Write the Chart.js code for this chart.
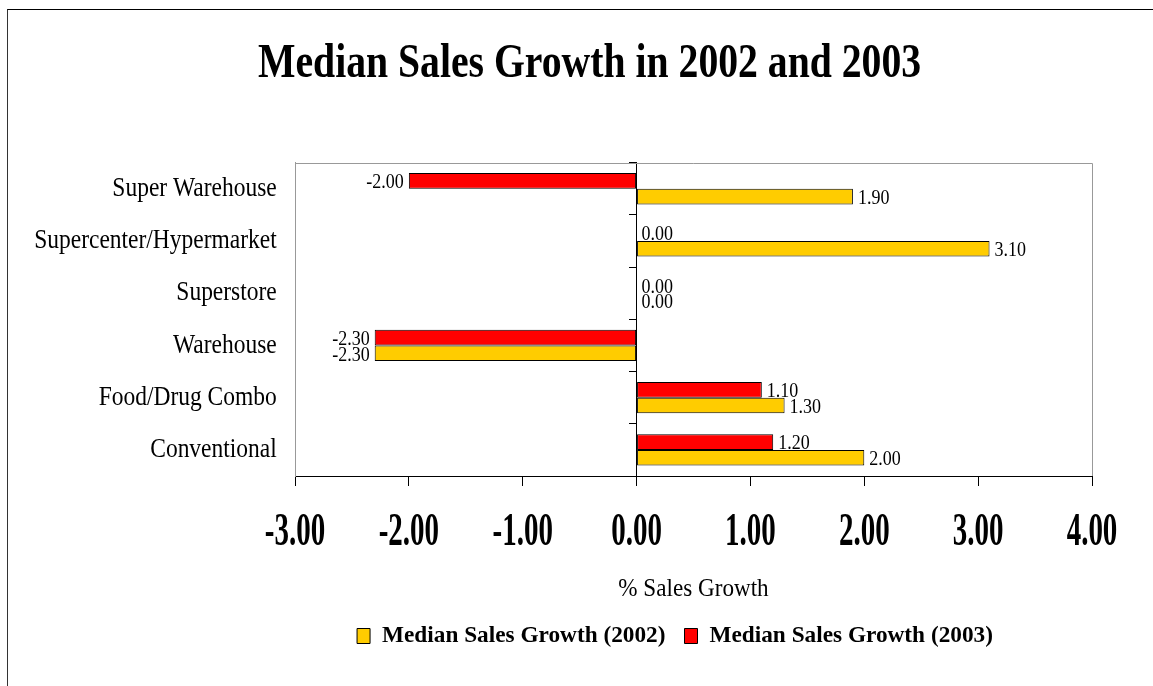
<!DOCTYPE html>
<html>
<head>
<meta charset="utf-8">
<script src="https://cdn.jsdelivr.net/npm/chart.js@4"></script>
<style>
  html, body { margin: 0; padding: 0; background: #fff; overflow: hidden; }
  #frame { position: absolute; left: 7px; top: 9px; width: 1400px; height: 900px;
           border-left: 1px solid #333; border-top: 1px solid #000; }
  #salesChart { position: absolute; left: 0; top: 0; }
</style>
</head>
<body>
<div id="frame"></div>
<canvas id="salesChart" width="1153" height="686"></canvas>
<script>
const categories = ["Super Warehouse", "Supercenter/Hypermarket", "Superstore", "Warehouse", "Food/Drug Combo", "Conventional"];
const growth2002 = [1.90, 3.10, 0.00, -2.30, 1.30, 2.00];
const growth2003 = [-2.00, 0.00, 0.00, -2.30, 1.10, 1.20];
const axisMin = -3;
const axisMax = 4;
const axisStep = 1;

// narrow serif look: squeeze text horizontally, per font size
const squeeze = { 48: 0.827, 46: 0.63, 27: 0.87, 26: 0.89, 24: 0.97, 20: 0.9 };

const canvas = document.getElementById("salesChart");
const ctx = canvas.getContext("2d");
const baseFill = ctx.fillText.bind(ctx);
const baseMeasure = ctx.measureText.bind(ctx);
function squeezeFor() {
    const m = /(\d+(?:\.\d+)?)px/.exec(ctx.font);
    return (m && squeeze[Math.round(parseFloat(m[1]))]) || 1;
}
ctx.fillText = function (text, x, y) {
    const k = squeezeFor();
    ctx.save();
    ctx.translate(x, y);
    ctx.scale(k, 1);
    baseFill(text, 0, 0);
    ctx.restore();
};
ctx.measureText = function (text) {
    const m = baseMeasure(text);
    return {
        width: m.width * squeezeFor(),
        actualBoundingBoxAscent: m.actualBoundingBoxAscent,
        actualBoundingBoxDescent: m.actualBoundingBoxDescent,
        actualBoundingBoxLeft: m.actualBoundingBoxLeft,
        actualBoundingBoxRight: m.actualBoundingBoxRight
    };
};

Chart.defaults.font.family = "'Liberation Serif', 'Times New Roman', serif";
Chart.defaults.color = "#000";

// grey top and right edges of the plot area
const plotFrame = {
    id: "plotFrame",
    beforeDatasetsDraw(chart) {
        const { ctx, chartArea: a } = chart;
        ctx.save();
        ctx.strokeStyle = "#999";
        ctx.lineWidth = 1;
        ctx.beginPath();
        ctx.moveTo(a.left, Math.round(a.top) + 0.5);
        ctx.lineTo(Math.round(a.right) + 0.5, Math.round(a.top) + 0.5);
        ctx.lineTo(Math.round(a.right) + 0.5, a.bottom);
        ctx.stroke();
        ctx.restore();
    }
};

// value labels at the end of each bar
const valueLabels = {
    id: "valueLabels",
    afterDatasetsDraw(chart) {
        const { ctx } = chart;
        ctx.save();
        ctx.font = "20px 'Liberation Serif', 'Times New Roman', serif";
        ctx.fillStyle = "#000";
        ctx.textBaseline = "middle";
        chart.data.datasets.forEach((ds, i) => {
            chart.getDatasetMeta(i).data.forEach((bar, j) => {
                const v = ds.data[j];
                ctx.textAlign = v < 0 ? "right" : "left";
                ctx.fillText(v.toFixed(2), bar.x + (v < 0 ? -5 : 5), bar.y + 2);
            });
        });
        ctx.restore();
    }
};

new Chart(ctx, {
    type: "bar",
    data: {
        labels: categories,
        datasets: [
            {
                label: "Median Sales Growth (2003)",
                data: growth2003,
                backgroundColor: "#FF0000",
                borderColor: "#000",
                borderWidth: 1,
                borderSkipped: false
            },
            {
                label: "Median Sales Growth (2002)",
                data: growth2002,
                backgroundColor: "#FFCC00",
                borderColor: "#000",
                borderWidth: 1,
                borderSkipped: false
            }
        ]
    },
    options: {
        indexAxis: "y",
        responsive: false,
        animation: false,
        layout: { padding: { left: 258, right: 61, top: 0, bottom: 28 } },
        datasets: { bar: { categoryPercentage: 0.6, barPercentage: 1 } },
        scales: {
            x: {
                min: axisMin,
                max: axisMax,
                ticks: {
                    stepSize: axisStep,
                    callback: v => v.toFixed(2),
                    font: { size: 46, weight: "bold", lineHeight: 1.2 },
                    padding: 20
                },
                grid: { drawOnChartArea: false, tickLength: 10, color: "#000" },
                border: { color: "#000" },
                title: {
                    display: true,
                    text: "% Sales Growth",
                    font: { size: 26, lineHeight: 1.2 },
                    padding: { top: 0, bottom: 0 }
                },
                afterFit: s => { s.height = 129; }
            },
            // left edge of the plot
            y: {
                ticks: { display: false },
                grid: { display: false, drawTicks: false },
                border: { color: "#999" },
                afterFit: s => { s.width = 37; }
            },
            // category names, right-aligned just left of the plot
            yLabels: {
                type: "category",
                position: { x: axisMin - 0.16 },
                offset: true,
                ticks: { font: { size: 27 }, padding: 0 },
                grid: { display: false, drawTicks: false },
                border: { display: false }
            },
            // zero line with category tick marks
            y2: {
                type: "category",
                position: { x: 0 },
                offset: true,
                ticks: { display: false },
                grid: { drawOnChartArea: false, offset: true, tickLength: 7, color: "#000" },
                border: { color: "#000" }
            }
        },
        plugins: {
            title: {
                display: true,
                text: "Median Sales Growth in 2002 and 2003",
                align: "start",
                font: { size: 48, weight: "bold", lineHeight: 1.2 },
                padding: { top: 36, bottom: 69 }
            },
            legend: {
                position: "bottom",
                reverse: true,
                labels: {
                    font: { size: 24, weight: "bold" },
                    boxWidth: 13,
                    boxHeight: 15,
                    padding: 19
                }
            },
            tooltip: { enabled: false }
        }
    },
    plugins: [plotFrame, valueLabels]
});
</script>
</body>
</html>
